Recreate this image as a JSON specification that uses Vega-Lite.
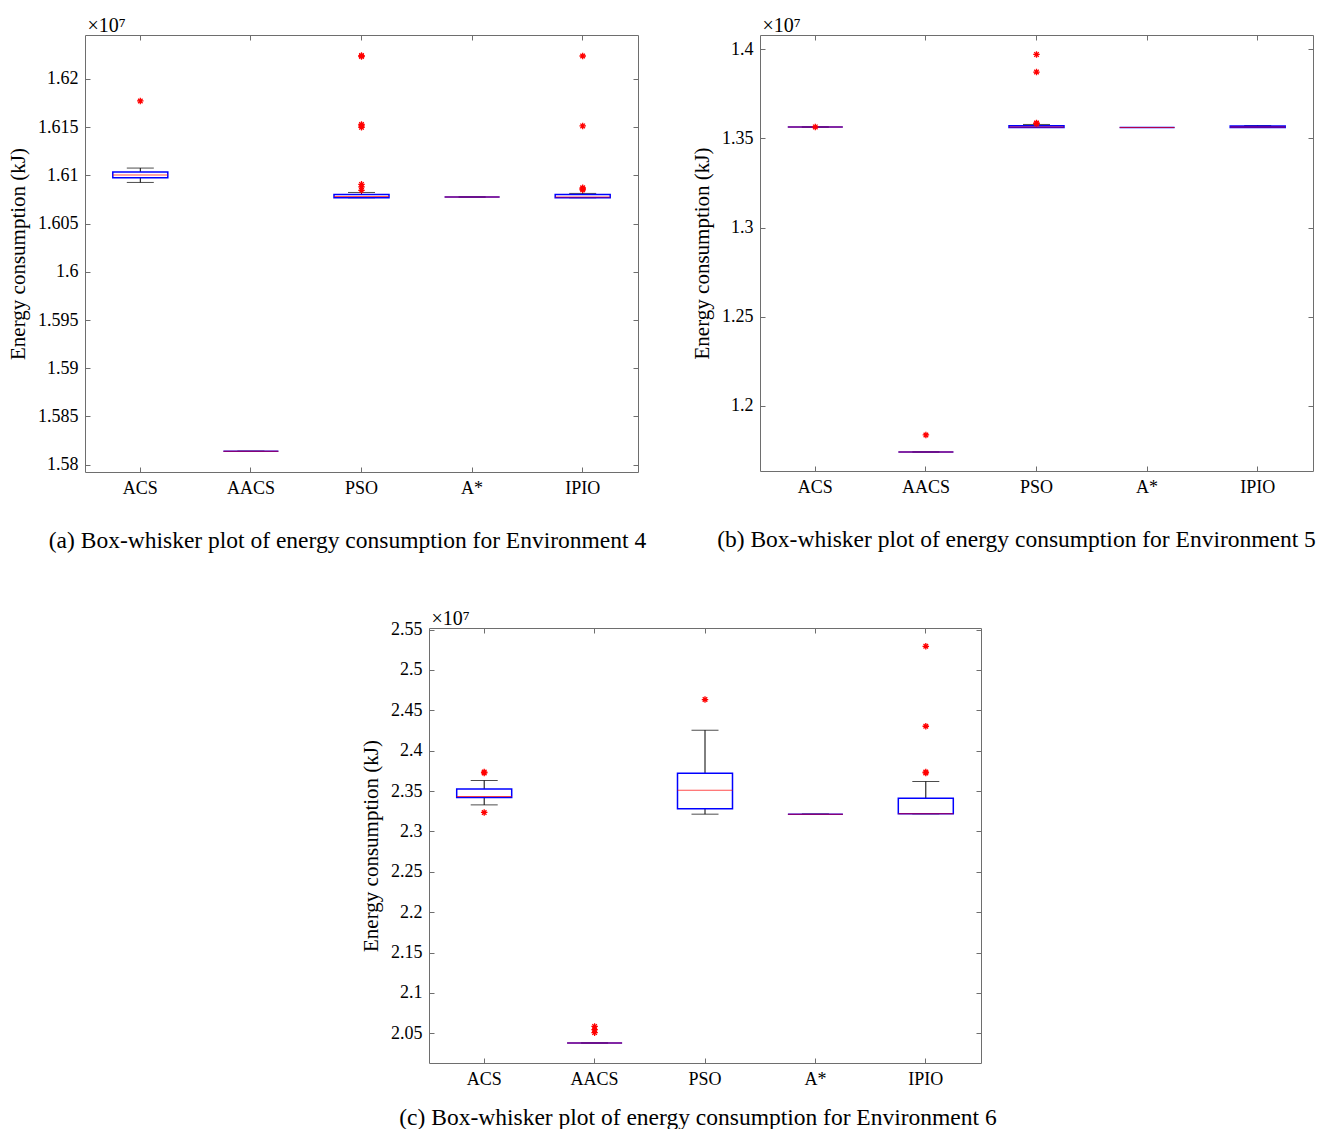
{
  "$schema": "https://vega.github.io/schema/vega-lite/v6.json",
  "background": "white",
  "padding": {"left": 7, "top": 15, "right": 0, "bottom": 0},
  "config": {
    "font": "Liberation Serif",
    "view": {"stroke": null},
    "axis": {
      "labelFont": "Liberation Serif",
      "labelFontSize": 18,
      "labelColor": "#000000",
      "titleFont": "Liberation Serif",
      "titleFontSize": 21,
      "titleFontWeight": "normal",
      "titleColor": "#000000",
      "domainColor": "#6e6e6e",
      "domainWidth": 1,
      "tickColor": "#6e6e6e",
      "tickWidth": 1,
      "tickSize": -5,
      "labelPadding": 12,
      "grid": false
    },
    "title": {"font": "Liberation Serif", "fontSize": 23.5, "fontWeight": "normal", "color": "#000000"}
  },
  "datasets": {
    "stats": [
      {"env": 4, "method": "ACS", "lower": 1.60927, "q1": 1.60975, "median": 1.61003, "q3": 1.61034, "upper": 1.61076},
      {"env": 4, "method": "AACS", "lower": 1.58139, "q1": 1.58139, "median": 1.58139, "q3": 1.58139, "upper": 1.58139},
      {"env": 4, "method": "PSO", "lower": 1.60768, "q1": 1.60768, "median": 1.60781, "q3": 1.60802, "upper": 1.60823},
      {"env": 4, "method": "A*", "lower": 1.60776, "q1": 1.60776, "median": 1.60776, "q3": 1.60776, "upper": 1.60776},
      {"env": 4, "method": "IPIO", "lower": 1.60768, "q1": 1.60768, "median": 1.60775, "q3": 1.60802, "upper": 1.60813},
      {"env": 5, "method": "ACS", "lower": 1.3564, "q1": 1.3564, "median": 1.3564, "q3": 1.3564, "upper": 1.3564},
      {"env": 5, "method": "AACS", "lower": 1.17399, "q1": 1.17399, "median": 1.17399, "q3": 1.17399, "upper": 1.17399},
      {"env": 5, "method": "PSO", "lower": 1.35618, "q1": 1.35618, "median": 1.3564, "q3": 1.35713, "upper": 1.35787},
      {"env": 5, "method": "A*", "lower": 1.35618, "q1": 1.35618, "median": 1.35618, "q3": 1.35618, "upper": 1.35618},
      {"env": 5, "method": "IPIO", "lower": 1.35618, "q1": 1.35618, "median": 1.3564, "q3": 1.35697, "upper": 1.3573},
      {"env": 6, "method": "ACS", "lower": 2.33292, "q1": 2.34208, "median": 2.34332, "q3": 2.35272, "upper": 2.36312},
      {"env": 6, "method": "AACS", "lower": 2.038, "q1": 2.038, "median": 2.038, "q3": 2.038, "upper": 2.038},
      {"env": 6, "method": "PSO", "lower": 2.32141, "q1": 2.32797, "median": 2.35111, "q3": 2.37215, "upper": 2.42537},
      {"env": 6, "method": "A*", "lower": 2.32141, "q1": 2.32141, "median": 2.32141, "q3": 2.32141, "upper": 2.32141},
      {"env": 6, "method": "IPIO", "lower": 2.32178, "q1": 2.32178, "median": 2.32178, "q3": 2.34121, "upper": 2.36188}
    ],
    "outliers": [
      {"env": 4, "method": "ACS", "energy": 1.61772},
      {"env": 4, "method": "PSO", "energy": 1.62243},
      {"env": 4, "method": "PSO", "energy": 1.62233},
      {"env": 4, "method": "PSO", "energy": 1.61529},
      {"env": 4, "method": "PSO", "energy": 1.61513},
      {"env": 4, "method": "PSO", "energy": 1.61498},
      {"env": 4, "method": "PSO", "energy": 1.60907},
      {"env": 4, "method": "PSO", "energy": 1.60881},
      {"env": 4, "method": "PSO", "energy": 1.60845},
      {"env": 4, "method": "IPIO", "energy": 1.62238},
      {"env": 4, "method": "IPIO", "energy": 1.61513},
      {"env": 4, "method": "IPIO", "energy": 1.60871},
      {"env": 4, "method": "IPIO", "energy": 1.6086},
      {"env": 4, "method": "IPIO", "energy": 1.6085},
      {"env": 5, "method": "ACS", "energy": 1.3565},
      {"env": 5, "method": "AACS", "energy": 1.18354},
      {"env": 5, "method": "PSO", "energy": 1.39719},
      {"env": 5, "method": "PSO", "energy": 1.3873},
      {"env": 5, "method": "PSO", "energy": 1.35865},
      {"env": 5, "method": "PSO", "energy": 1.35843},
      {"env": 6, "method": "ACS", "energy": 2.37252},
      {"env": 6, "method": "ACS", "energy": 2.37352},
      {"env": 6, "method": "ACS", "energy": 2.32352},
      {"env": 6, "method": "AACS", "energy": 2.0585},
      {"env": 6, "method": "AACS", "energy": 2.0545},
      {"env": 6, "method": "AACS", "energy": 2.0508},
      {"env": 6, "method": "PSO", "energy": 2.46336},
      {"env": 6, "method": "IPIO", "energy": 2.52933},
      {"env": 6, "method": "IPIO", "energy": 2.43032},
      {"env": 6, "method": "IPIO", "energy": 2.37252},
      {"env": 6, "method": "IPIO", "energy": 2.37352}
    ]
  },
  "spacing": 55,
  "vconcat": [
    {
      "spacing": 44,
      "hconcat": [
        {
          "width": 553,
          "height": 437,
          "title": {"text": "(a) Box-whisker plot of energy consumption for Environment 4", "orient": "bottom", "anchor": "middle", "frame": "group", "dx": -14, "offset": 32},
          "resolve": {"axis": {"x": "independent", "y": "independent"}},
          "layer": [
            {
              "data": {"name": "stats"},
              "transform": [{"filter": "datum.env === 4"}],
              "mark": {"type": "rule", "color": "#000000", "strokeWidth": 1},
              "encoding": {
                "x": {"field": "method", "type": "nominal", "scale": {"type": "band", "domain": ["ACS", "AACS", "PSO", "A*", "IPIO"], "paddingInner": 0, "paddingOuter": 0}, "axis": {"orient": "bottom", "title": null, "labelAngle": 0}},
                "y": {"field": "lower", "type": "quantitative", "scale": {"domain": [1.57924, 1.62456], "nice": false, "zero": false}, "axis": {"orient": "left", "title": "Energy consumption (kJ)", "titlePadding": 9, "values": [1.58, 1.585, 1.59, 1.595, 1.6, 1.605, 1.61, 1.615, 1.62], "format": ".3~f"}},
                "y2": {"field": "upper"}
              }
            },
            {
              "data": {"name": "stats"},
              "transform": [{"filter": "datum.env === 4"}, {"fold": ["lower", "upper"], "as": ["end", "value"]}],
              "mark": {"type": "tick", "color": "#000000", "thickness": 1, "size": 27},
              "encoding": {
                "x": {"field": "method", "type": "nominal", "axis": null},
                "y": {"field": "value", "type": "quantitative", "axis": null}
              }
            },
            {
              "data": {"name": "stats"},
              "transform": [{"filter": "datum.env === 4"}],
              "mark": {"type": "bar", "fill": "white", "stroke": "#0000ff", "strokeWidth": 1.5, "size": 55},
              "encoding": {
                "x": {"field": "method", "type": "nominal", "axis": null},
                "y": {"field": "q1", "type": "quantitative", "axis": null},
                "y2": {"field": "q3"}
              }
            },
            {
              "data": {"name": "stats"},
              "transform": [{"filter": "datum.env === 4"}],
              "mark": {"type": "tick", "color": "#ff0000", "thickness": 1, "size": 55},
              "encoding": {
                "x": {"field": "method", "type": "nominal", "axis": null},
                "y": {"field": "median", "type": "quantitative", "axis": null}
              }
            },
            {
              "data": {"name": "outliers"},
              "transform": [{"filter": "datum.env === 4"}],
              "mark": {"type": "point", "shape": "M0,-1L0,1M-1,0L1,0M-0.7,-0.7L0.7,0.7M-0.7,0.7L0.7,-0.7", "filled": false, "stroke": "#ff0000", "strokeWidth": 1.3, "size": 42, "opacity": 1},
              "encoding": {
                "x": {"field": "method", "type": "nominal", "axis": null},
                "y": {"field": "energy", "type": "quantitative", "axis": null}
              }
            },
            {
              "data": {"name": "stats"},
              "transform": [{"filter": "datum.env === 4"}],
              "mark": {"type": "tick", "opacity": 0},
              "encoding": {
                "x": {"field": "method", "type": "nominal", "axis": {"orient": "top", "labels": false, "title": "×10⁷", "titleAnchor": "start", "titleAlign": "left", "titleX": 2, "titleY": -4, "titleBaseline": "alphabetic", "titleFontSize": 20}},
                "y": {"field": "median", "type": "quantitative", "axis": {"orient": "right", "labels": false, "title": null, "values": [1.58, 1.585, 1.59, 1.595, 1.6, 1.605, 1.61, 1.615, 1.62]}}
              }
            }
          ]
        },
        {
          "width": 553,
          "height": 436,
          "title": {"text": "(b) Box-whisker plot of energy consumption for Environment 5", "orient": "bottom", "anchor": "middle", "frame": "group", "dx": -20, "offset": 32},
          "resolve": {"axis": {"x": "independent", "y": "independent"}},
          "layer": [
            {
              "data": {"name": "stats"},
              "transform": [{"filter": "datum.env === 5"}],
              "mark": {"type": "rule", "color": "#000000", "strokeWidth": 1},
              "encoding": {
                "x": {"field": "method", "type": "nominal", "scale": {"type": "band", "domain": ["ACS", "AACS", "PSO", "A*", "IPIO"], "paddingInner": 0, "paddingOuter": 0}, "axis": {"orient": "bottom", "title": null, "labelAngle": 0}},
                "y": {"field": "lower", "type": "quantitative", "scale": {"domain": [1.16331, 1.4081], "nice": false, "zero": false}, "axis": {"orient": "left", "title": "Energy consumption (kJ)", "titlePadding": 9, "values": [1.2, 1.25, 1.3, 1.35, 1.4], "format": ".2~f"}},
                "y2": {"field": "upper"}
              }
            },
            {
              "data": {"name": "stats"},
              "transform": [{"filter": "datum.env === 5"}, {"fold": ["lower", "upper"], "as": ["end", "value"]}],
              "mark": {"type": "tick", "color": "#000000", "thickness": 1, "size": 27},
              "encoding": {
                "x": {"field": "method", "type": "nominal", "axis": null},
                "y": {"field": "value", "type": "quantitative", "axis": null}
              }
            },
            {
              "data": {"name": "stats"},
              "transform": [{"filter": "datum.env === 5"}],
              "mark": {"type": "bar", "fill": "white", "stroke": "#0000ff", "strokeWidth": 1.5, "size": 55},
              "encoding": {
                "x": {"field": "method", "type": "nominal", "axis": null},
                "y": {"field": "q1", "type": "quantitative", "axis": null},
                "y2": {"field": "q3"}
              }
            },
            {
              "data": {"name": "stats"},
              "transform": [{"filter": "datum.env === 5"}],
              "mark": {"type": "tick", "color": "#ff0000", "thickness": 1, "size": 55},
              "encoding": {
                "x": {"field": "method", "type": "nominal", "axis": null},
                "y": {"field": "median", "type": "quantitative", "axis": null}
              }
            },
            {
              "data": {"name": "outliers"},
              "transform": [{"filter": "datum.env === 5"}],
              "mark": {"type": "point", "shape": "M0,-1L0,1M-1,0L1,0M-0.7,-0.7L0.7,0.7M-0.7,0.7L0.7,-0.7", "filled": false, "stroke": "#ff0000", "strokeWidth": 1.3, "size": 42, "opacity": 1},
              "encoding": {
                "x": {"field": "method", "type": "nominal", "axis": null},
                "y": {"field": "energy", "type": "quantitative", "axis": null}
              }
            },
            {
              "data": {"name": "stats"},
              "transform": [{"filter": "datum.env === 5"}],
              "mark": {"type": "tick", "opacity": 0},
              "encoding": {
                "x": {"field": "method", "type": "nominal", "axis": {"orient": "top", "labels": false, "title": "×10⁷", "titleAnchor": "start", "titleAlign": "left", "titleX": 2, "titleY": -4, "titleBaseline": "alphabetic", "titleFontSize": 20}},
                "y": {"field": "median", "type": "quantitative", "axis": {"orient": "right", "labels": false, "title": null, "values": [1.2, 1.25, 1.3, 1.35, 1.4]}}
              }
            }
          ]
        }
      ]
    },
    {
      "spacing": 0,
      "hconcat": [
        {
          "width": 275,
          "height": 10,
          "data": {"values": [{}]},
          "mark": {"type": "point", "opacity": 0},
          "encoding": {}
        },
        {
          "width": 552,
          "height": 435,
          "title": {"text": "(c) Box-whisker plot of energy consumption for Environment 6", "orient": "bottom", "anchor": "middle", "frame": "group", "dx": -7, "offset": 18},
          "resolve": {"axis": {"x": "independent", "y": "independent"}},
          "layer": [
            {
              "data": {"name": "stats"},
              "transform": [{"filter": "datum.env === 6"}],
              "mark": {"type": "rule", "color": "#000000", "strokeWidth": 1},
              "encoding": {
                "x": {"field": "method", "type": "nominal", "scale": {"type": "band", "domain": ["ACS", "AACS", "PSO", "A*", "IPIO"], "paddingInner": 0, "paddingOuter": 0}, "axis": {"orient": "bottom", "title": null, "labelAngle": 0}},
                "y": {"field": "lower", "type": "quantitative", "scale": {"domain": [2.0132, 2.552], "nice": false, "zero": false}, "axis": {"orient": "left", "title": "Energy consumption (kJ)", "titlePadding": 9, "values": [2.05, 2.1, 2.15, 2.2, 2.25, 2.3, 2.35, 2.4, 2.45, 2.5, 2.55], "format": ".2~f"}},
                "y2": {"field": "upper"}
              }
            },
            {
              "data": {"name": "stats"},
              "transform": [{"filter": "datum.env === 6"}, {"fold": ["lower", "upper"], "as": ["end", "value"]}],
              "mark": {"type": "tick", "color": "#000000", "thickness": 1, "size": 27},
              "encoding": {
                "x": {"field": "method", "type": "nominal", "axis": null},
                "y": {"field": "value", "type": "quantitative", "axis": null}
              }
            },
            {
              "data": {"name": "stats"},
              "transform": [{"filter": "datum.env === 6"}],
              "mark": {"type": "bar", "fill": "white", "stroke": "#0000ff", "strokeWidth": 1.5, "size": 55},
              "encoding": {
                "x": {"field": "method", "type": "nominal", "axis": null},
                "y": {"field": "q1", "type": "quantitative", "axis": null},
                "y2": {"field": "q3"}
              }
            },
            {
              "data": {"name": "stats"},
              "transform": [{"filter": "datum.env === 6"}],
              "mark": {"type": "tick", "color": "#ff0000", "thickness": 1, "size": 55},
              "encoding": {
                "x": {"field": "method", "type": "nominal", "axis": null},
                "y": {"field": "median", "type": "quantitative", "axis": null}
              }
            },
            {
              "data": {"name": "outliers"},
              "transform": [{"filter": "datum.env === 6"}],
              "mark": {"type": "point", "shape": "M0,-1L0,1M-1,0L1,0M-0.7,-0.7L0.7,0.7M-0.7,0.7L0.7,-0.7", "filled": false, "stroke": "#ff0000", "strokeWidth": 1.3, "size": 42, "opacity": 1},
              "encoding": {
                "x": {"field": "method", "type": "nominal", "axis": null},
                "y": {"field": "energy", "type": "quantitative", "axis": null}
              }
            },
            {
              "data": {"name": "stats"},
              "transform": [{"filter": "datum.env === 6"}],
              "mark": {"type": "tick", "opacity": 0},
              "encoding": {
                "x": {"field": "method", "type": "nominal", "axis": {"orient": "top", "labels": false, "title": "×10⁷", "titleAnchor": "start", "titleAlign": "left", "titleX": 2, "titleY": -4, "titleBaseline": "alphabetic", "titleFontSize": 20}},
                "y": {"field": "median", "type": "quantitative", "axis": {"orient": "right", "labels": false, "title": null, "values": [2.05, 2.1, 2.15, 2.2, 2.25, 2.3, 2.35, 2.4, 2.45, 2.5, 2.55]}}
              }
            }
          ]
        }
      ]
    }
  ]
}
